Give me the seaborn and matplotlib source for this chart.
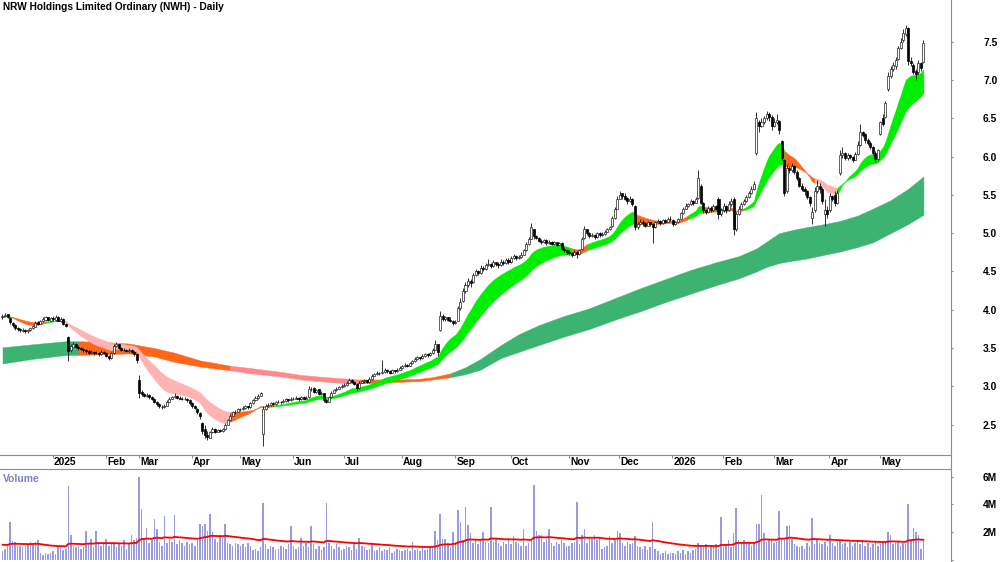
import numpy as np
import pandas as pd
import matplotlib
matplotlib.use("Agg")
import matplotlib.pyplot as plt
from matplotlib.transforms import blended_transform_factory
from matplotlib.lines import Line2D
import seaborn as sns

# ---------------- DATA ----------------
# daily candles (open, high, low, close) per month
dec24 = [(3.90,3.95,3.88,3.92),(3.92,3.96,3.90,3.93),(3.94,3.95,3.89,3.90),(3.89,3.90,3.82,3.84),(3.83,3.84,3.78,3.80),
         (3.80,3.81,3.74,3.76),(3.76,3.78,3.72,3.75),(3.75,3.76,3.71,3.73),(3.72,3.76,3.71,3.74),(3.74,3.75,3.70,3.72),
         (3.72,3.75,3.70,3.73),(3.73,3.78,3.72,3.76),(3.76,3.80,3.75,3.79),(3.78,3.85,3.77,3.83),(3.84,3.86,3.80,3.82),
         (3.82,3.87,3.81,3.85),(3.85,3.90,3.84,3.88),(3.87,3.92,3.86,3.90),(3.90,3.91,3.85,3.87),(3.86,3.91,3.85,3.89)]
jan25 = [(3.89,3.92,3.86,3.88),(3.87,3.93,3.86,3.91),(3.91,3.92,3.85,3.86),(3.85,3.90,3.84,3.88),(3.88,3.89,3.80,3.82),
         (3.82,3.83,3.77,3.79),(3.64,3.66,3.33,3.46),(3.47,3.56,3.45,3.53),(3.52,3.58,3.51,3.55),(3.55,3.57,3.50,3.52),
         (3.52,3.54,3.48,3.50),(3.50,3.52,3.47,3.49),(3.49,3.50,3.45,3.47),(3.47,3.49,3.44,3.46),(3.46,3.47,3.42,3.44),
         (3.44,3.47,3.43,3.45),(3.45,3.46,3.41,3.43),(3.43,3.46,3.42,3.44),(3.44,3.45,3.40,3.42),(3.42,3.47,3.41,3.45),
         (3.45,3.46,3.42,3.44)]
feb25 = [(3.43,3.44,3.38,3.40),(3.40,3.41,3.35,3.37),(3.37,3.45,3.36,3.43),(3.43,3.55,3.42,3.53),(3.53,3.58,3.52,3.56),
         (3.55,3.56,3.49,3.50),(3.50,3.51,3.46,3.48),(3.48,3.50,3.46,3.47),(3.47,3.49,3.45,3.46),(3.46,3.50,3.45,3.48),
         (3.48,3.49,3.44,3.45),(3.45,3.46,3.40,3.42),(3.42,3.43,3.31,3.34)]
mar25 = [(3.08,3.15,2.85,2.92),(2.93,2.95,2.88,2.90),(2.90,2.92,2.86,2.88),(2.87,2.91,2.86,2.89),(2.89,2.90,2.84,2.86),
         (2.86,2.87,2.82,2.84),(2.84,2.85,2.78,2.80),(2.80,2.81,2.75,2.77),(2.77,2.78,2.72,2.74),(2.73,2.76,2.71,2.73),
         (2.73,2.77,2.72,2.75),(2.75,2.82,2.74,2.80),(2.80,2.86,2.79,2.84),(2.84,2.88,2.83,2.86),(2.86,2.91,2.85,2.88),
         (2.88,2.89,2.84,2.85),(2.85,2.87,2.83,2.84),(2.84,2.86,2.82,2.83),(2.83,2.86,2.82,2.84),(2.84,2.85,2.80,2.82),
         (2.82,2.83,2.76,2.78)]
apr25 = [(2.78,2.79,2.72,2.74),(2.74,2.76,2.70,2.72),(2.71,2.72,2.64,2.66),(2.65,2.66,2.58,2.62),(2.52,2.54,2.38,2.42),
         (2.44,2.50,2.32,2.36),(2.36,2.42,2.30,2.34),(2.33,2.42,2.32,2.40),(2.40,2.47,2.39,2.45),(2.45,2.46,2.39,2.41),
         (2.41,2.45,2.40,2.43),(2.43,2.44,2.40,2.42),(2.42,2.46,2.41,2.44),(2.44,2.52,2.43,2.50),(2.50,2.58,2.49,2.56),
         (2.56,2.64,2.55,2.62),(2.62,2.68,2.61,2.66),(2.66,2.69,2.64,2.67),(2.67,2.72,2.66,2.70)]
may25 = [(2.70,2.72,2.68,2.70),(2.70,2.74,2.69,2.72),(2.72,2.76,2.71,2.74),(2.74,2.75,2.71,2.73),(2.73,2.80,2.72,2.78),
         (2.78,2.84,2.77,2.82),(2.82,2.87,2.81,2.85),(2.85,2.90,2.84,2.88),(2.88,2.93,2.87,2.91),(2.38,2.74,2.22,2.70),
         (2.70,2.77,2.69,2.75),(2.75,2.78,2.73,2.76),(2.76,2.80,2.75,2.78),(2.78,2.79,2.75,2.77),(2.77,2.81,2.76,2.79),
         (2.79,2.82,2.78,2.80),(2.80,2.81,2.77,2.79),(2.79,2.83,2.78,2.81),(2.81,2.85,2.80,2.83),(2.83,2.84,2.80,2.82),
         (2.82,2.86,2.81,2.84)]
jun25 = [(2.84,2.86,2.82,2.84),(2.84,2.87,2.83,2.85),(2.85,2.86,2.81,2.83),(2.83,2.87,2.82,2.86),(2.86,2.87,2.83,2.84),
         (2.84,2.87,2.83,2.85),(2.86,3.00,2.85,2.96),(2.96,2.99,2.94,2.97),(2.98,2.99,2.92,2.93),(2.93,2.97,2.92,2.95),
         (2.96,2.97,2.89,2.90),(2.90,2.94,2.89,2.92),(2.91,2.92,2.79,2.82),(2.82,2.84,2.78,2.80),(2.80,2.88,2.79,2.86),
         (2.86,2.94,2.85,2.92),(2.92,2.97,2.91,2.95),(2.95,2.99,2.94,2.97),(2.97,3.01,2.96,2.99),(2.99,3.03,2.98,3.00)]
jul25 = [(3.00,3.04,2.99,3.02),(3.02,3.07,3.01,3.05),(3.05,3.11,3.04,3.08),(3.09,3.10,3.05,3.06),(3.06,3.07,3.02,3.03),
         (3.03,3.04,2.94,2.98),(2.98,3.07,2.97,3.05),(3.05,3.09,3.04,3.07),(3.07,3.10,3.05,3.08),(3.08,3.09,3.04,3.06),
         (3.06,3.12,3.05,3.10),(3.10,3.16,3.09,3.14),(3.14,3.18,3.13,3.16),(3.16,3.20,3.15,3.18),(3.18,3.19,3.15,3.17),
         (3.17,3.34,3.16,3.19),(3.19,3.24,3.18,3.22),(3.22,3.23,3.18,3.20),(3.20,3.21,3.16,3.18),(3.18,3.23,3.17,3.21),
         (3.21,3.22,3.18,3.20),(3.20,3.24,3.19,3.22),(3.22,3.27,3.21,3.24)]
aug25 = [(3.24,3.28,3.23,3.26),(3.26,3.30,3.25,3.28),(3.28,3.29,3.25,3.27),(3.27,3.32,3.26,3.30),(3.30,3.35,3.29,3.33),
         (3.33,3.38,3.32,3.36),(3.36,3.40,3.35,3.38),(3.38,3.39,3.35,3.37),(3.37,3.42,3.36,3.40),(3.40,3.44,3.39,3.42),
         (3.42,3.43,3.39,3.41),(3.41,3.45,3.40,3.43),(3.43,3.50,3.42,3.48),(3.48,3.60,3.47,3.55),(3.55,3.56,3.40,3.45),
         (3.74,3.98,3.72,3.92),(3.92,3.94,3.85,3.88),(3.88,3.92,3.86,3.90),(3.90,3.91,3.85,3.87),(3.87,3.90,3.84,3.86),
         (3.86,3.87,3.80,3.83)]
sep25 = [(3.83,3.87,3.81,3.84),(3.86,4.05,3.85,4.02),(4.02,4.15,4.00,4.10),(4.12,4.28,4.10,4.24),(4.24,4.36,4.22,4.32),
         (4.32,4.42,4.30,4.38),(4.38,4.40,4.30,4.35),(4.36,4.48,4.35,4.45),(4.45,4.53,4.44,4.50),(4.50,4.52,4.45,4.48),
         (4.48,4.58,4.47,4.55),(4.55,4.57,4.50,4.53),(4.53,4.61,4.52,4.58),(4.58,4.66,4.57,4.60),(4.60,4.61,4.55,4.57),
         (4.57,4.65,4.56,4.62),(4.62,4.63,4.57,4.60),(4.60,4.62,4.55,4.58),(4.58,4.66,4.57,4.63),(4.63,4.65,4.59,4.61),
         (4.61,4.68,4.60,4.65),(4.65,4.67,4.60,4.62)]
oct25 = [(4.62,4.70,4.61,4.68),(4.68,4.73,4.66,4.70),(4.70,4.71,4.65,4.67),(4.67,4.71,4.66,4.69),(4.69,4.75,4.68,4.72),
         (4.72,4.80,4.71,4.78),(4.78,4.88,4.77,4.86),(4.86,4.95,4.85,4.92),(4.93,5.13,4.92,5.08),(5.05,5.06,4.93,4.96),
         (4.96,4.98,4.92,4.94),(4.94,4.95,4.88,4.90),(4.90,4.92,4.86,4.88),(4.88,4.93,4.87,4.91),(4.91,4.92,4.85,4.87),
         (4.87,4.91,4.86,4.89),(4.89,4.90,4.84,4.86),(4.86,4.90,4.85,4.88),(4.88,4.89,4.83,4.85),(4.85,4.89,4.84,4.87),
         (4.87,4.88,4.78,4.80),(4.80,4.82,4.76,4.78),(4.78,4.80,4.73,4.76)]
nov25 = [(4.76,4.78,4.72,4.74),(4.74,4.75,4.69,4.72),(4.72,4.78,4.71,4.76),(4.76,4.77,4.67,4.73),(4.73,4.80,4.72,4.78),
         (4.79,4.95,4.78,4.92),(4.94,5.10,4.93,5.05),(5.05,5.06,4.98,5.00),(5.00,5.02,4.94,4.96),(4.96,5.00,4.95,4.98),
         (4.98,4.99,4.93,4.95),(4.95,5.02,4.94,5.00),(5.00,5.01,4.95,4.97),(4.97,5.01,4.96,4.99),(4.99,5.04,4.98,5.02),
         (5.02,5.07,5.01,5.05),(5.05,5.10,5.04,5.08),(5.09,5.22,5.08,5.20),(5.20,5.34,5.19,5.32),(5.32,5.48,5.31,5.45)]
dec25 = [(5.45,5.55,5.44,5.50),(5.52,5.53,5.45,5.48),(5.49,5.52,5.43,5.45),(5.46,5.47,5.38,5.42),(5.42,5.48,5.41,5.44),
         (5.45,5.46,5.36,5.38),(5.36,5.37,5.04,5.08),(5.08,5.15,5.06,5.12),(5.12,5.18,5.11,5.15),(5.15,5.17,5.10,5.13),
         (5.13,5.14,5.08,5.10),(5.10,5.16,5.09,5.14),(5.14,5.15,5.09,5.12),(5.12,5.13,4.87,5.08),(5.08,5.16,5.07,5.14),
         (5.14,5.18,5.13,5.16),(5.16,5.17,5.11,5.13),(5.13,5.19,5.12,5.17),(5.17,5.18,5.13,5.15),(5.15,5.21,5.14,5.19),
         (5.19,5.22,5.16,5.18)]
jan26 = [(5.17,5.18,5.10,5.12),(5.12,5.16,5.11,5.14),(5.14,5.20,5.13,5.18),(5.18,5.28,5.17,5.26),(5.26,5.34,5.25,5.32),
         (5.32,5.39,5.31,5.36),(5.36,5.40,5.34,5.38),(5.38,5.44,5.37,5.42),(5.42,5.43,5.37,5.40),(5.40,5.47,5.39,5.44),
         (5.46,5.83,5.45,5.72),(5.62,5.64,5.38,5.40),(5.40,5.41,5.27,5.30),(5.30,5.32,5.25,5.28),(5.28,5.36,5.27,5.33),
         (5.33,5.35,5.28,5.30),(5.30,5.38,5.29,5.35),(5.35,5.37,5.30,5.32),(5.45,5.47,5.18,5.25),(5.25,5.33,5.22,5.30)]
feb26 = [(5.30,5.40,5.28,5.35),(5.35,5.37,5.27,5.30),(5.30,5.42,5.29,5.38),(5.38,5.46,5.36,5.42),(5.45,5.47,4.97,5.05),
         (5.05,5.28,5.03,5.25),(5.25,5.35,5.24,5.32),(5.32,5.41,5.31,5.38),(5.38,5.45,5.37,5.42),(5.42,5.50,5.41,5.47),
         (5.47,5.55,5.46,5.52),(5.52,5.61,5.51,5.58),(5.58,5.68,5.57,5.64),(6.05,6.58,6.02,6.50),(6.45,6.48,6.32,6.40),
         (6.40,6.50,6.38,6.45),(6.45,6.53,6.43,6.50),(6.50,6.60,6.48,6.55),(6.55,6.58,6.47,6.52),(6.52,6.54,6.35,6.40)]
mar26 = [(6.40,6.50,6.38,6.45),(6.45,6.55,6.42,6.48),(6.46,6.48,6.30,6.35),(6.20,6.22,5.95,5.98),(5.95,5.97,5.48,5.52),
         (5.55,5.90,5.52,5.85),(5.85,5.88,5.78,5.82),(5.82,5.92,5.80,5.88),(5.88,5.89,5.77,5.80),(5.80,5.82,5.70,5.72),
         (5.72,5.74,5.60,5.62),(5.62,5.66,5.55,5.58),(5.58,5.60,5.50,5.55),(5.55,5.57,5.45,5.47),(5.47,5.49,5.35,5.40),
         (5.20,5.34,5.12,5.28),(5.30,5.60,5.28,5.55),(5.55,5.70,5.52,5.62),(5.62,5.65,5.52,5.58),(5.58,5.60,5.38,5.42),
         (5.25,5.45,5.10,5.30),(5.30,5.35,5.20,5.25)]
apr26 = [(5.30,5.52,5.28,5.48),(5.48,5.50,5.42,5.45),(5.50,5.55,5.36,5.40),(5.40,5.56,5.38,5.52),(5.78,6.08,5.76,6.02),
         (6.02,6.13,5.98,6.05),(6.05,6.06,5.95,5.98),(5.98,6.05,5.96,6.02),(6.02,6.04,5.97,6.00),(6.00,6.01,5.93,5.96),
         (5.96,6.06,5.95,6.03),(6.03,6.20,6.02,6.15),(6.15,6.42,6.14,6.32),(6.32,6.34,6.25,6.28),(6.30,6.31,6.18,6.22),
         (6.22,6.24,6.15,6.18),(6.18,6.20,6.10,6.12),(6.12,6.14,6.02,6.05),(6.05,6.07,5.93,5.97),(5.97,6.10,5.95,6.08)]
may26 = [(6.30,6.47,6.28,6.45),(6.50,6.55,6.40,6.43),(6.52,6.73,6.50,6.70),(6.88,7.10,6.86,7.05),(7.05,7.18,7.02,7.15),
         (7.15,7.24,7.12,7.20),(7.18,7.30,7.15,7.26),(7.28,7.45,7.26,7.42),(7.42,7.55,7.40,7.50),(7.52,7.66,7.50,7.62),
         (7.60,7.72,7.58,7.68),(7.68,7.69,7.20,7.25),(7.25,7.30,7.18,7.22),(7.20,7.22,7.08,7.10),(7.12,7.15,7.00,7.08),
         (7.10,7.26,7.08,7.22),(7.22,7.24,7.12,7.16),(7.24,7.52,7.22,7.48)]

# daily volume (millions) per month
vol_dec24 = [0.6,0.8,1.1,2.75,1.35,1.3,1.0,1.0,0.9,1.0,1.1,1.3,1.2,1.3,1.4,0.5,0.35,0.5,0.4,0.5]
vol_jan25 = [0.6,0.4,0.9,1.0,0.7,0.8,5.3,1.8,1.0,0.9,1.0,0.8,0.9,2.1,1.2,1.5,0.9,2.1,1.2,1.0,1.3]
vol_feb25 = [1.5,1.0,1.2,1.3,0.9,1.1,1.0,1.4,0.8,1.1,1.8,1.4,1.6]
vol_mar25 = [6.0,3.65,1.5,2.3,1.2,1.4,2.96,2.2,1.3,1.0,3.15,1.2,1.5,1.3,3.2,1.1,1.4,1.2,1.0,1.3,1.1]
vol_apr25 = [1.2,1.0,1.4,2.55,2.45,2.6,2.1,3.28,2.0,1.5,1.3,1.8,1.6,2.6,1.2,1.1,1.0,1.2,1.1]
vol_may25 = [1.0,1.1,0.9,1.2,1.0,0.7,0.8,0.6,0.9,4.07,1.1,0.8,1.0,0.9,0.7,0.8,1.0,0.9,0.8,1.1,2.4]
vol_jun25 = [1.0,0.8,0.9,1.6,1.0,1.2,0.9,2.4,1.1,0.8,1.0,0.7,0.9,4.07,1.2,1.0,0.8,1.1,0.9,0.7]
vol_jul25 = [0.8,1.0,0.9,0.7,1.1,0.8,1.6,1.0,0.9,0.7,0.8,1.1,0.6,0.7,0.9,0.6,0.8,0.7,0.9,0.5,0.6,0.8,0.7]
vol_aug25 = [0.6,0.7,0.8,0.6,1.3,0.7,0.8,0.6,0.9,0.7,0.8,0.9,1.0,2.1,1.4,3.3,1.5,1.5,1.2,0.9,2.0]
vol_sep25 = [1.3,3.6,2.75,1.4,3.8,2.5,1.9,1.2,1.4,1.1,1.5,2.0,1.3,1.2,3.8,1.3,1.5,1.2,1.0,1.3,1.1,1.6]
vol_oct25 = [1.1,1.7,1.3,1.2,1.0,2.2,1.0,1.2,1.4,5.4,2.1,1.8,1.8,1.3,1.5,2.2,1.2,1.0,1.3,1.1,1.4,1.2,1.0]
vol_nov25 = [1.0,1.2,1.3,4.2,1.1,1.8,2.25,1.2,1.6,1.5,1.8,1.4,1.6,0.8,0.9,1.0,1.7,1.2,1.4,2.1]
vol_dec25 = [1.9,1.2,1.0,1.3,1.1,1.2,1.7,1.0,0.9,0.8,1.0,0.7,0.9,2.75,0.8,0.6,0.4,0.5,0.6,0.4,0.5]
vol_jan26 = [0.5,0.4,0.6,0.5,0.7,0.4,0.6,0.5,0.7,0.8,1.2,1.0,0.9,1.1,0.8,1.0,0.9,1.1,0.8,3.07]
vol_feb26 = [1.0,1.1,1.4,0.9,1.9,3.75,1.4,1.2,1.4,1.1,1.3,1.0,1.2,2.6,2.55,4.7,1.9,1.3,1.4,1.4]
vol_mar26 = [1.2,1.3,3.5,1.6,1.4,2.4,2.5,1.5,1.1,1.0,0.9,1.0,0.8,1.2,1.0,3.0,1.1,1.4,1.2,1.1,1.3,1.0]
vol_apr26 = [1.8,1.2,1.0,1.3,1.4,1.1,1.2,0.9,1.3,1.0,1.2,1.4,1.1,1.3,1.0,1.2,0.9,1.1,1.3,1.0]
vol_may26 = [1.1,1.3,1.2,2.0,1.8,1.1,1.2,1.3,1.0,1.2,1.1,4.0,1.5,2.3,2.0,1.8,0.8,1.4]

month_labels = [None, "2025", "Feb", "Mar", "Apr", "May", "Jun", "Jul", "Aug", "Sep",
                "Oct", "Nov", "Dec", "2026", "Feb", "Mar", "Apr", "May"]

# long-term band edges read at sample days
long_day = [0, 12, 25, 30, 40, 50, 60, 68, 78, 90, 98, 110, 118, 128, 137, 141, 150, 157, 165,
            170, 177, 183, 189, 197, 204, 212, 222, 232, 242, 252, 262, 272, 282, 291, 298, 302,
            307, 312, 318, 325, 331, 338, 344, 351, 358, 364]
long_top = [3.51, 3.55, 3.59, 3.59, 3.58, 3.56, 3.50, 3.44, 3.34, 3.27, 3.24, 3.19, 3.15, 3.12, 3.10,
            3.09, 3.09, 3.09, 3.10, 3.12, 3.17, 3.25, 3.36, 3.54, 3.68, 3.80, 3.92, 4.02, 4.15, 4.28,
            4.40, 4.52, 4.62, 4.70, 4.80, 4.89, 5.00, 5.04, 5.08, 5.12, 5.16, 5.23, 5.32, 5.43, 5.58,
            5.74]
long_bot = [3.30, 3.36, 3.41, 3.41, 3.42, 3.43, 3.39, 3.32, 3.26, 3.21, 3.17, 3.13, 3.09, 3.06, 3.04,
            3.04, 3.05, 3.06, 3.07, 3.09, 3.12, 3.16, 3.22, 3.37, 3.45, 3.54, 3.65, 3.75, 3.87, 3.98,
            4.10, 4.21, 4.32, 4.41, 4.50, 4.56, 4.61, 4.64, 4.67, 4.72, 4.76, 4.82, 4.88, 5.00, 5.12,
            5.24]
# colour states of the bands (first day, last day, state)
short_states = [(0, 3, "up"), (4, 16, "mixed"), (17, 24, "up"), (25, 89, "down"), (90, 106, "mixed"),
                (107, 224, "up"), (225, 230, "mixed"), (231, 249, "up"), (250, 270, "mixed"),
                (271, 276, "up"), (277, 281, "mixed"), (282, 285, "up"), (286, 292, "mixed"),
                (293, 308, "up"), (309, 320, "mixed"), (321, 329, "down"), (330, 364, "up")]
long_states = [(0, 29, "up"), (30, 89, "mixed"), (90, 140, "down"), (141, 176, "mixed"), (177, 364, "up")]

# ---------------- BUILD ----------------
blocks = [dec24, jan25, feb25, mar25, apr25, may25, jun25, jul25, aug25, sep25, oct25, nov25,
          dec25, jan26, feb26, mar26, apr26, may26]
vol_blocks = [vol_dec24, vol_jan25, vol_feb25, vol_mar25, vol_apr25, vol_may25, vol_jun25, vol_jul25,
              vol_aug25, vol_sep25, vol_oct25, vol_nov25, vol_dec25, vol_jan26, vol_feb26, vol_mar26,
              vol_apr26, vol_may26]
for b, v in zip(blocks, vol_blocks):
    assert len(b) == len(v), (len(b), len(v))
assert len(long_day) == len(long_top) == len(long_bot)

df = pd.DataFrame([c for b in blocks for c in b], columns=["open", "high", "low", "close"])
df["volume"] = [v for b in vol_blocks for v in b]
df["day"] = np.arange(len(df))
starts = np.cumsum([0] + [len(b) for b in blocks[:-1]])


def ema(values, span, seed):
    a = 2.0 / (span + 1.0)
    out, e = [], seed
    for v in values:
        e = e + a * (v - e)
        out.append(e)
    return np.array(out)


fast = ema(df["close"].values, 15, df["close"].iloc[0])
slow = ema(df["close"].values, 30, df["close"].iloc[0])
s_lo, s_hi = np.minimum(fast, slow), np.maximum(fast, slow)
vol_ma = ema(df["volume"].values, 50, 1.1)

sns.set_theme(style="white")
plt.rcParams["font.family"] = ["Liberation Sans", "DejaVu Sans"]

GRAY = "#8c8c8c"
short_col = {"up": "#00ee00", "mixed": "#ff661a", "down": "#ffb3b3"}
long_col = {"up": "#3cb371", "mixed": "#ff661a", "down": "#ff8888"}

fig = plt.figure(figsize=(10, 5.62), dpi=100)
ax = fig.add_axes([0, 107 / 562, 0.951, 455 / 562])
axv = fig.add_axes([0, 0, 0.951, 93 / 562], sharex=ax)

x = df["day"].values

# long band
ld = np.array(long_day)
lt = np.array(long_top)
lb = np.array(long_bot)


def state_of(day, states):
    for s, e, k in states:
        if s <= day <= e:
            return k
    return states[-1][2]


j = 0
while j < len(ld) - 1:
    k = state_of(ld[j], long_states)
    j2 = j
    while j2 < len(ld) - 1 and state_of(ld[j2], long_states) == k:
        j2 += 1
    sl = slice(j, j2 + 1)
    ax.fill_between(ld[sl], lb[sl], lt[sl], color=long_col[k], lw=0.3, ec=long_col[k], zorder=1)
    j = j2

# short band
for s, e, k in short_states:
    sl = slice(s, min(e + 2, len(x)))
    ax.fill_between(x[sl], s_lo[sl], s_hi[sl], color=short_col[k], lw=0.3, ec=short_col[k], zorder=2)

# candles
o, h, l, c = (df[k].values for k in ["open", "high", "low", "close"])
up = c >= o
ax.vlines(x, l, h, color="#111111", lw=0.6, zorder=3)
ax.bar(x[up], (c - o)[up], bottom=o[up], width=0.8, color="white", edgecolor="#222222",
       linewidth=0.5, zorder=4)
ax.bar(x[~up], (o - c)[~up], bottom=c[~up], width=0.8, color="black", edgecolor="black",
       linewidth=0.5, zorder=4)

xmin, xmax = -2.5 / 2.53, (951 - 2.5) / 2.53
ax.set_xlim(xmin, xmax)
ax.set_ylim(2.1044, 8.0444)

# volume
axv.bar(x, df["volume"].values, width=0.6, color="#9a9ade", edgecolor="none", zorder=2)
sns.lineplot(x=x, y=vol_ma, ax=axv, color="#ff0000", lw=1.3, zorder=3)
axv.set_ylim(-0.166, 6.549)

# styling
for a in (ax, axv):
    a.set_facecolor("white")
    a.grid(False)
    for sp in a.spines.values():
        sp.set_color(GRAY)
        sp.set_linewidth(0.8)
    a.spines["left"].set_visible(False)
    a.yaxis.tick_right()
ax.spines["top"].set_visible(False)
axv.spines["bottom"].set_visible(False)

yt = [2.5, 3.0, 3.5, 4.0, 4.5, 5.0, 5.5, 6.0, 6.5, 7.0, 7.5]
ax.set_yticks(yt)
ax.set_yticklabels([f"{v:.1f}" for v in yt])
axv.set_yticks([0, 2, 4, 6])
axv.set_yticklabels(["", "2M", "4M", "6M"])
for a in (ax, axv):
    a.tick_params(axis="y", which="both", right=True, left=False, length=1.6, width=0.8,
                  color=GRAY, pad=21.5, labelsize=7.4, labelcolor="black")
    for t in a.get_yticklabels():
        t.set_fontweight("bold")

ax.set_xticks(starts[1:] - 0.2)
ax.set_xticklabels([])
ax.tick_params(axis="x", bottom=True, direction="out", length=2.2, width=0.8, color=GRAY)
axv.tick_params(axis="x", bottom=False, labelbottom=False)

trans = blended_transform_factory(ax.transData, ax.transAxes)
for s, lab in zip(starts[1:], month_labels[1:]):
    ax.text(s + 0.35, -7.2 / 455, lab, transform=trans, ha="left", va="center",
            fontsize=7.4, fontweight="bold", color="black", clip_on=False)

ax.text(2.7 / 951, 1 - 2.5 / 455, "NRW Holdings Limited Ordinary (NWH) - Daily", transform=ax.transAxes,
        ha="left", va="top", fontsize=7.3, fontweight="bold", color="black")
axv.text(3 / 951, 1 - 9.5 / 93, "Volume", transform=axv.transAxes, ha="left", va="center",
         fontsize=7.4, fontweight="bold", color="#8080c0")

fig.add_artist(Line2D([0.951, 0.951], [93 / 562, 107 / 562], transform=fig.transFigure,
                      color=GRAY, lw=0.8))

fig.savefig("out.png", dpi=100, facecolor="white")
